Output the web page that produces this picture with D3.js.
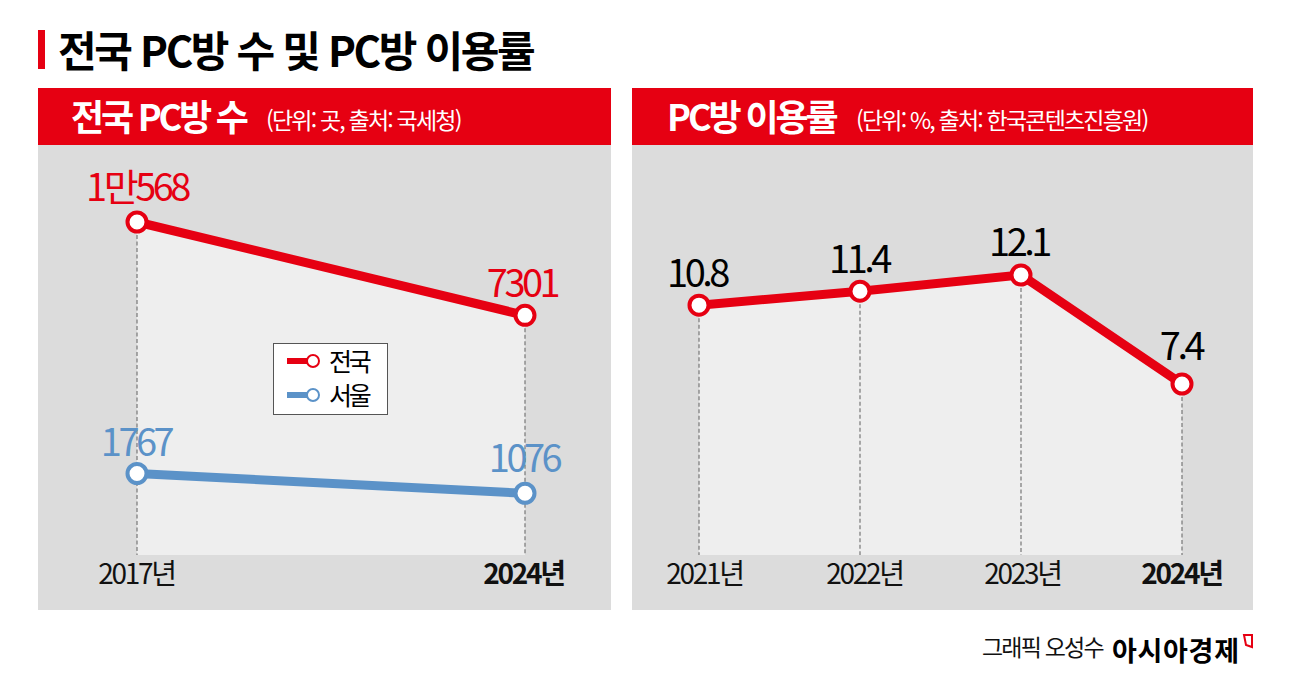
<!DOCTYPE html>
<html lang="ko">
<head>
<meta charset="UTF-8">
<title>전국 PC방 수 및 PC방 이용률</title>
<script src="https://d3js.org/d3.v7.min.js"></script>
<style>
    body { margin: 0; background: white; }
    svg { display: block; }
    text { font-family: "Noto Sans CJK KR", sans-serif; }
    .tick text { font-size: 28px; letter-spacing: -2.3px; fill: #111; }
    .val { font-size: 38px; letter-spacing: -3.5px; text-anchor: middle; }
</style>
</head>
<body>
<svg id="chart" width="1291" height="679"></svg>
<script>
const RED = '#e60012';
const BLUE = '#5b92c8';

// left panel
const yearsLeft = ['2017년', '2024년'];
const national = [10568, 7301];
const seoul = [1767, 1076];
const nationalLabels = ['1만568', '7301'];
const seoulLabels = ['1767', '1076'];

// right panel
const yearsRight = ['2021년', '2022년', '2023년', '2024년'];
const usage = [10.8, 11.4, 12.1, 7.4];
const usageLabels = ['10.8', '11.4', '12.1', '7.4'];

const svg = d3.select('#chart');

function addText(x, y, str, size, weight, fill, spacing, anchor) {
    return svg.append('text')
        .attr('x', x).attr('y', y)
        .attr('font-size', size).attr('font-weight', weight)
        .attr('fill', fill).attr('letter-spacing', spacing)
        .attr('text-anchor', anchor || 'start')
        .text(str);
}

function panel(x0, x1, title, titleX, titleSpacing, note, noteX, noteSpacing) {
    svg.append('rect').attr('x', x0).attr('y', 145).attr('width', x1 - x0).attr('height', 465).attr('fill', '#dcdcdc');
    svg.append('rect').attr('x', x0).attr('y', 88).attr('width', x1 - x0).attr('height', 57).attr('fill', RED);
    addText(titleX, 131, title, 36, 700, 'white', titleSpacing);
    addText(noteX, 129, note, 23, 400, 'white', noteSpacing);
}

function drawAxis(x, labels, dx) {
    const g = svg.append('g')
        .attr('transform', 'translate(0,555)')
        .call(d3.axisBottom(x).tickSize(0).tickPadding(9));
    g.select('.domain').remove();
    g.selectAll('.tick text')
        .attr('dx', (d, i) => dx[i])
        .attr('font-weight', (d, i) => i === labels.length - 1 ? 700 : 400);
}

function drawArea(x, y, cats, values) {
    const area = d3.area()
        .x((d, i) => x(cats[i]))
        .y0(555)
        .y1(d => y(d));
    svg.append('path').datum(values).attr('d', area).attr('fill', '#eeeeee');
}

function drawDrops(x, y, cats, tops) {
    svg.selectAll(null).data(cats).enter().append('line')
        .attr('x1', d => x(d)).attr('x2', d => x(d))
        .attr('y1', (d, i) => y(tops[i])).attr('y2', 555)
        .attr('stroke', '#777').attr('stroke-width', 1.2).attr('stroke-dasharray', '4 2.5');
}

function drawSeries(x, y, cats, values, color) {
    const line = d3.line().x((d, i) => x(cats[i])).y(d => y(d));
    svg.append('path').datum(values).attr('d', line)
        .attr('fill', 'none').attr('stroke', color).attr('stroke-width', 9);
    svg.selectAll(null).data(values).enter().append('circle')
        .attr('cx', (d, i) => x(cats[i])).attr('cy', d => y(d)).attr('r', 9.5)
        .attr('fill', 'white').attr('stroke', color).attr('stroke-width', 4);
}

function drawValues(x, y, cats, values, labels, color, dx, dy) {
    svg.selectAll(null).data(values).enter().append('text')
        .attr('class', 'val')
        .attr('x', (d, i) => x(cats[i]) + dx[i])
        .attr('y', (d, i) => y(d) + dy[i])
        .attr('fill', color)
        .text((d, i) => labels[i]);
}

// heading
svg.append('rect').attr('x', 38).attr('y', 30).attr('width', 7).attr('height', 39).attr('fill', RED);
addText(58, 67, '전국 PC방 수 및 PC방 이용률', 42, 700, '#000', -2.35);

panel(38, 611, '전국 PC방 수', 71, -3.2, '(단위: 곳, 출처: 국세청)', 266, -1.8);
panel(632, 1253, 'PC방 이용률', 667, -3.1, '(단위: %, 출처: 한국콘텐츠진흥원)', 856, -1.8);

// left chart
const xLeft = d3.scalePoint().domain(yearsLeft).range([137, 525]);
const yLeft = d3.scaleLinear().domain([0, 10568]).range([524, 222]);
drawArea(xLeft, yLeft, yearsLeft, national);
drawDrops(xLeft, yLeft, yearsLeft, national);
drawAxis(xLeft, yearsLeft, [-1, -2]);
drawSeries(xLeft, yLeft, yearsLeft, seoul, BLUE);
drawSeries(xLeft, yLeft, yearsLeft, national, RED);
drawValues(xLeft, yLeft, yearsLeft, national, nationalLabels, RED, [0, -3], [-21, -18]);
drawValues(xLeft, yLeft, yearsLeft, seoul, seoulLabels, BLUE, [-1, -1], [-18, -21]);

// legend
svg.append('rect').attr('x', 273.5).attr('y', 343.5).attr('width', 114).attr('height', 71)
    .attr('fill', 'white').attr('stroke', '#555').attr('stroke-width', 1);
[['전국', RED, 361], ['서울', BLUE, 395]].forEach(([name, color, cy]) => {
    svg.append('line').attr('x1', 287).attr('x2', 312).attr('y1', cy).attr('y2', cy)
        .attr('stroke', color).attr('stroke-width', 6);
    svg.append('circle').attr('cx', 313).attr('cy', cy).attr('r', 6)
        .attr('fill', 'white').attr('stroke', color).attr('stroke-width', 2);
    addText(329, cy + 10, name, 25, 400, '#000', -3.2);
});

// right chart
const xRight = d3.scalePoint().domain(yearsRight).range([699, 1182]);
const yRight = d3.scaleLinear().domain([0, 12.1]).range([555.6, 275]);
drawArea(xRight, yRight, yearsRight, usage);
drawDrops(xRight, yRight, yearsRight, usage);
drawAxis(xRight, yearsRight, [5, 4, 1, -1]);
drawSeries(xRight, yRight, yearsRight, usage, RED);
drawValues(xRight, yRight, yearsRight, usage, usageLabels, '#000', [-2, -1, -2, -1], [-18, -18, -19, -24]);

// credit
addText(982, 656, '그래픽 오성수', 23, 400, '#111', -1.8);
addText(1112, 661, '아시아경제', 27, 700, '#000', 0.7);
svg.append('path').attr('d', 'M1244 635H1252V647L1246 645Z').attr('fill', 'white').attr('stroke', RED).attr('stroke-width', 2);
</script>
</body>
</html>
